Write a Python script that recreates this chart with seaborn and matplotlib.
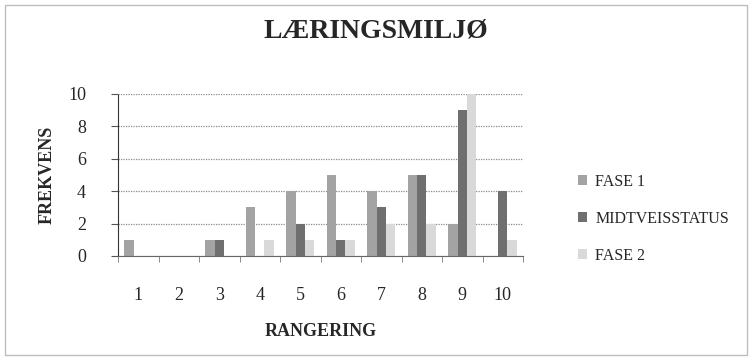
import matplotlib
matplotlib.use("Agg")
import matplotlib.pyplot as plt
import seaborn as sns
import pandas as pd
from matplotlib.patches import Rectangle

categories = ["1", "2", "3", "4", "5", "6", "7", "8", "9", "10"]
series_names = ["FASE 1", "MIDTVEISSTATUS", "FASE 2"]
fase1 = [1, 0, 1, 3, 4, 5, 4, 5, 2, 0]
midtveis = [0, 0, 1, 0, 2, 1, 3, 5, 9, 4]
fase2 = [0, 0, 0, 1, 1, 1, 2, 2, 10, 1]
yticks = [0, 2, 4, 6, 8, 10]
colors = ["#a3a3a3", "#6f6f6f", "#d9d9d9"]

rows = []
for name, vals in zip(series_names, [fase1, midtveis, fase2]):
    for c, v in zip(categories, vals):
        rows.append({"RANGERING": c, "FREKVENS": v, "Serie": name})
df = pd.DataFrame(rows)

sns.set_style("white")
plt.rcParams["font.family"] = ["Liberation Serif", "DejaVu Serif"]

fig = plt.figure(figsize=(7.52, 3.6), dpi=100)
ax = fig.add_axes([118 / 752, 1 - 256 / 360, 405 / 752, 162 / 360])

sns.barplot(data=df, x="RANGERING", y="FREKVENS", hue="Serie", order=categories,
            hue_order=series_names, palette=colors, width=0.68, ax=ax,
            edgecolor="none", linewidth=0, saturation=1)

ax.set_ylim(0, 10)
ax.set_xlim(-0.5, 9.5)
ax.set_yticks(yticks)
ax.set_yticklabels([str(t) for t in yticks], fontsize=13)
ax.set_xticks(range(len(categories)))
ax.set_xticklabels(categories, fontsize=13)
ax.yaxis.grid(True, linestyle=(0, (1, 1)), color="#8a8a8a", linewidth=0.9)
ax.set_axisbelow(True)
for s in ["top", "right"]:
    ax.spines[s].set_visible(False)
ax.spines["left"].set_linestyle((0, (1, 1)))
ax.spines["left"].set_color("#333333")
ax.spines["bottom"].set_linestyle((0, (1, 1)))
ax.spines["bottom"].set_color("#666666")
ax.tick_params(axis="y", length=5, pad=18, left=True, color="#555555")
ax.tick_params(axis="x", length=0, pad=22)
# category boundary ticks
ax.set_xticks([i - 0.5 for i in range(len(categories) + 1)], minor=True)
ax.tick_params(axis="x", which="minor", length=4, bottom=True, color="#777777")

ax.set_xlabel("RANGERING", fontsize=13, fontweight="bold", labelpad=14)
ax.set_ylabel("FREKVENS", fontsize=13, fontweight="bold", labelpad=9)

fig.text(0.5, 1 - 31 / 360, "LÆRINGSMILJØ", ha="center", va="center",
         fontsize=20, fontweight="bold")

ax.legend(loc="center left", bbox_to_anchor=(1.1, 0.23), frameon=False,
          fontsize=11.5, handlelength=0.6, handleheight=0.6, labelspacing=1.3,
          handletextpad=0.5)

fig.patches.append(Rectangle((5 / 752, 5 / 360), 742 / 752, 350 / 360,
                             transform=fig.transFigure, fill=False,
                             edgecolor="#bdbdbd", linewidth=1))

fig.savefig("out.png", dpi=100)
